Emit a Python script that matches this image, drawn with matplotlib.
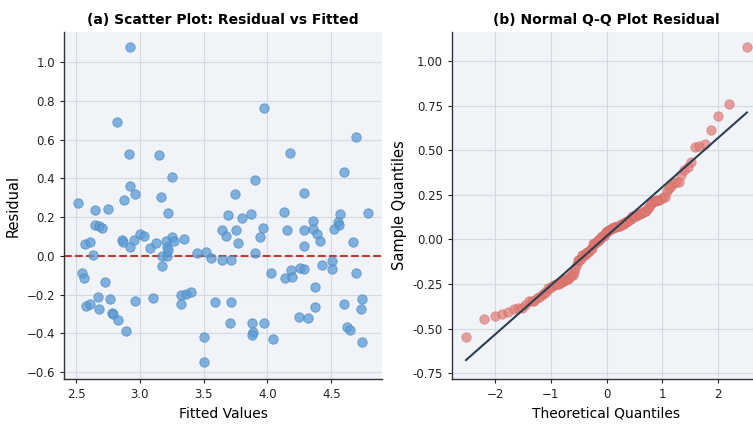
import numpy as np
import matplotlib
matplotlib.use("Agg")
import matplotlib.pyplot as plt
from statistics import NormalDist

# fitted values and residuals
fitted = [2.926, 2.82, 2.918, 3.149, 3.255, 2.92, 2.96, 2.873, 3.168, 2.518,
          2.65, 2.75, 3.22, 3.97, 4.695, 4.18, 4.60, 3.906, 3.748, 4.285,
          3.688, 3.799, 3.872, 4.13, 4.359, 4.569, 4.556, 4.56, 4.785, 3.64,
          3.675, 3.754, 3.964, 3.938, 3.767, 4.15, 4.285, 4.359, 4.39, 4.416,
          4.288, 4.519, 4.674, 3.90, 3.52, 3.555, 3.647, 3.718, 4.03, 4.135,
          4.188, 4.196, 4.259, 4.285, 4.43, 4.503, 4.503, 4.695, 4.37, 3.587,
          3.714, 4.37, 4.603, 4.742, 4.734, 3.709, 3.88, 3.972, 3.886, 3.88,
          4.245, 4.316, 4.627, 4.648, 4.043, 4.74, 3.5, 3.5, 2.65, 2.676,
          2.703, 2.571, 2.61, 2.629, 2.86, 2.867, 2.926, 2.957, 2.997, 3.03,
          3.076, 3.123, 3.202, 3.215, 3.223, 3.255, 3.268, 3.176, 3.215, 3.349,
          3.172, 3.448, 2.545, 2.558, 2.723, 2.581, 2.61, 2.671, 2.676, 2.763,
          2.78, 2.79, 2.829, 2.894, 2.965, 3.102, 3.326, 3.36, 3.4, 3.326]
residual = [1.078, 0.69, 0.524, 0.518, 0.405, 0.363, 0.317, 0.288, 0.302, 0.271,
            0.235, 0.24, 0.223, 0.761, 0.614, 0.532, 0.432, 0.389, 0.319, 0.322,
            0.209, 0.197, 0.218, 0.228, 0.18, 0.214, 0.175, 0.158, 0.221, 0.132,
            0.105, 0.132, 0.146, 0.095, 0.064, 0.132, 0.132, 0.141, 0.115, 0.077,
            0.05, 0.141, 0.072, 0.017, 0.021, -0.013, -0.019, -0.019, -0.087, -0.116,
            -0.074, -0.111, -0.063, -0.068, -0.048, -0.026, -0.068, -0.087, -0.159, -0.24,
            -0.236, -0.262, -0.248, -0.224, -0.272, -0.344, -0.344, -0.344, -0.39, -0.408,
            -0.314, -0.322, -0.365, -0.382, -0.43, -0.445, -0.42, -0.545, 0.161, 0.153,
            0.144, 0.06, 0.072, 0.004, 0.084, 0.072, 0.046, 0.084, 0.115, 0.101,
            0.041, 0.064, 0.077, 0.046, 0.029, 0.098, 0.077, -0.002, -0.002, 0.086,
            -0.051, 0.015, -0.09, -0.116, -0.137, -0.257, -0.25, -0.211, -0.274, -0.224,
            -0.296, -0.301, -0.33, -0.387, -0.231, -0.219, -0.202, -0.198, -0.185, -0.248]

# Q-Q values (Filliben plotting positions), reference line: mean + std * z
n = len(residual)
sample_q = np.sort(residual)
pos = np.empty(n)
pos[-1] = 0.5 ** (1.0 / n)
pos[0] = 1 - pos[-1]
i = np.arange(2, n)
pos[1:-1] = (i - 0.3175) / (n + 0.365)
theo_q = np.array([NormalDist().inv_cdf(p) for p in pos])
slope = np.std(residual, ddof=1)
intercept = np.mean(residual)

bg = "#f0f4f9"
grid_c = "#d5dae0"

fig = plt.figure(figsize=(7.53, 4.25), dpi=100)
ax1 = fig.add_axes([64 / 753, 1 - 379 / 425, 318 / 753, 347 / 425])
ax2 = fig.add_axes([452 / 753, 1 - 379 / 425, 309 / 753, 347 / 425])

for ax in (ax1, ax2):
    ax.set_facecolor(bg)
    ax.grid(True, color=grid_c, linewidth=0.8)
    ax.set_axisbelow(True)
    for s in ("top", "right"):
        ax.spines[s].set_visible(False)
    for s in ("left", "bottom"):
        ax.spines[s].set_color("#333333")
        ax.spines[s].set_linewidth(1.0)
    ax.tick_params(labelsize=8.5, colors="#222222", length=3)

ax1.scatter(fitted, residual, s=46, color="#5b9bd5", alpha=0.75,
            edgecolors="#4a86bf", linewidths=0.6, zorder=3)
ax1.axhline(0, color="#c0392b", linestyle="--", linewidth=1.5, zorder=2)
ax1.set_xticks([2.5, 3.0, 3.5, 4.0, 4.5])
ax1.set_yticks([-0.6, -0.4, -0.2, 0.0, 0.2, 0.4, 0.6, 0.8, 1.0])
ax1.set_ylim(-0.635, 1.155)
ax1.set_xlabel("Fitted Values", fontsize=10)
ax1.set_ylabel("Residual", fontsize=10.5)
ax1.set_title("(a) Scatter Plot: Residual vs Fitted", fontsize=10, fontweight="bold", pad=6)

ax2.scatter(theo_q, sample_q, s=46, color="#e07a73", alpha=0.7,
            edgecolors="#d06a63", linewidths=0.5, zorder=3)
ax2.plot(theo_q[[0, -1]], slope * theo_q[[0, -1]] + intercept,
         color="#2c3e50", linewidth=1.5, zorder=4)
ax2.set_xticks([-2, -1, 0, 1, 2])
ax2.set_yticks([-0.75, -0.5, -0.25, 0.0, 0.25, 0.5, 0.75, 1.0])
ax2.yaxis.set_major_formatter(matplotlib.ticker.FormatStrFormatter("%.2f"))
ax2.set_ylim(-0.782, 1.162)
ax2.set_xlabel("Theoretical Quantiles", fontsize=10)
ax2.set_ylabel("Sample Quantiles", fontsize=10.5)
ax2.set_title("(b) Normal Q-Q Plot Residual", fontsize=10, fontweight="bold", pad=6)

fig.savefig("out.png", dpi=100)
